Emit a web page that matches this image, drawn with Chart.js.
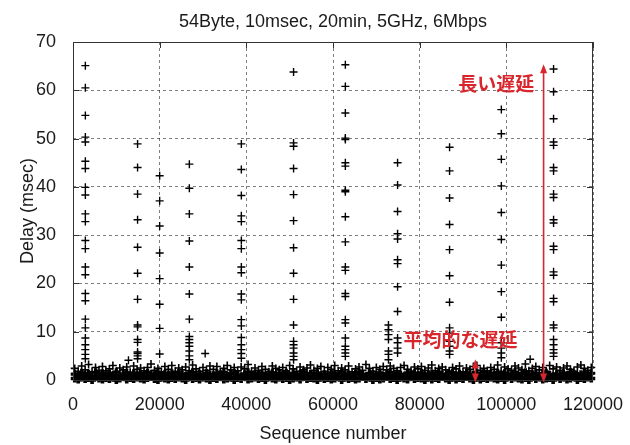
<!DOCTYPE html>
<html>
<head>
<meta charset="utf-8">
<script src="https://cdn.jsdelivr.net/npm/chart.js@4.4.1/dist/chart.umd.min.js"></script>
<style>
  body { margin: 0; background: #fff; }
</style>
</head>
<body>
<canvas id="myChart" width="630" height="445"></canvas>
<script>
var chartTitle = "54Byte, 10msec, 20min, 5GHz, 6Mbps";
var xTicks = [0, 20000, 40000, 60000, 80000, 100000, 120000];
var yTicks = [0, 10, 20, 30, 40, 50, 60, 70];

// background traffic: sequence numbers and three bands of delay
var seqBase = [
  400,1200,2000,2800,3600,4400,5200,6000,6800,7600,
  8400,9200,10000,10800,11600,12400,13200,14000,14800,15600,
  16400,17200,18000,18800,19600,20400,21200,22000,22800,23600,
  24400,25200,26000,26800,27600,28400,29200,30000,30800,31600,
  32400,33200,34000,34800,35600,36400,37200,38000,38800,39600,
  40400,41200,42000,42800,43600,44400,45200,46000,46800,47600,
  48400,49200,50000,50800,51600,52400,53200,54000,54800,55600,
  56400,57200,58000,58800,59600,60400,61200,62000,62800,63600,
  64400,65200,66000,66800,67600,68400,69200,70000,70800,71600,
  72400,73200,74000,74800,75600,76400,77200,78000,78800,79600,
  80400,81200,82000,82800,83600,84400,85200,86000,86800,87600,
  88400,89200,90000,90800,91600,92400,93200,94000,94800,95600,
  96400,97200,98000,98800,99600,100400,101200,102000,102800,103600,
  104400,105200,106000,106800,107600,108400,109200,110000,110800,111600,
  112400,113200,114000,114800,115600,116400,117200,118000,118800,119600
];
var baseLow = [
  0.3,0.1,0.5,0.2,0.4,0.0,0.6,0.3,0.1,0.4,
  0.2,0.5,0.0,0.3,0.6,0.1,0.4,0.2,0.5,0.3,
  0.1,0.4,0.6,0.2,0.0,0.5,0.3,0.1,0.4,0.2,
  0.5,0.3,0.0,0.6,0.2,0.4,0.1,0.5,0.3,0.0,
  0.4,0.2,0.6,0.1,0.3,0.5,0.0,0.4,0.2,0.6,
  0.1,0.3,0.5,0.2,0.4,0.0,0.6,0.3,0.1,0.5,
  0.2,0.4,0.0,0.3,0.5,0.1,0.6,0.2,0.4,0.3,
  0.0,0.5,0.2,0.4,0.1,0.3,0.6,0.0,0.5,0.2,
  0.4,0.1,0.3,0.6,0.2,0.5,0.0,0.4,0.1,0.3,
  0.6,0.2,0.4,0.0,0.5,0.3,0.1,0.6,0.2,0.4,
  0.3,0.0,0.5,0.1,0.4,0.2,0.6,0.3,0.0,0.5,
  0.1,0.4,0.2,0.6,0.3,0.0,0.5,0.1,0.4,0.2,
  0.5,0.3,0.1,0.4,0.0,0.6,0.2,0.5,0.3,0.1,
  0.4,0.0,0.6,0.2,0.5,0.1,0.3,0.4,0.0,0.6,
  0.2,0.5,0.1,0.3,0.6,0.0,0.4,0.2,0.5,0.3
];
var baseMid = [
  1.2,0.9,1.5,1.0,1.3,0.8,1.6,1.1,1.4,0.9,
  1.3,1.0,1.6,0.8,1.2,1.5,0.9,1.4,1.1,1.3,
  0.8,1.5,1.2,1.0,1.6,0.9,1.3,1.1,1.4,0.8,
  1.5,1.1,0.9,1.3,1.6,1.0,1.2,0.8,1.4,1.1,
  1.0,1.4,1.2,1.6,0.9,1.3,1.5,1.0,0.8,1.2,
  1.6,0.9,1.3,1.1,1.4,0.8,1.2,1.5,1.0,1.3,
  1.1,1.5,0.8,1.4,1.0,1.2,1.6,0.9,1.3,1.1,
  1.4,1.0,1.2,0.9,1.5,1.3,0.8,1.6,1.1,1.2,
  0.9,1.3,1.6,1.1,0.8,1.4,1.2,1.0,1.5,0.9,
  1.2,1.6,1.0,1.3,1.1,0.8,1.5,1.2,1.4,1.0,
  1.5,0.9,1.2,1.4,1.0,1.6,1.1,0.8,1.3,1.5,
  1.0,1.3,0.9,1.5,1.2,1.1,1.4,0.8,1.6,1.0,
  1.3,1.1,1.5,0.8,1.4,1.2,1.0,1.6,0.9,1.3,
  1.6,1.0,1.2,1.4,0.9,1.3,1.5,1.1,0.8,1.2,
  1.1,1.4,1.0,1.6,1.3,0.9,1.2,1.5,1.0,1.4
];
var baseTop = [
  2.4,1.8,2.9,2.1,3.2,1.7,2.6,2.0,2.8,1.9,
  2.3,3.0,1.8,2.5,2.1,2.7,1.6,2.9,2.2,2.5,
  1.9,2.6,3.3,2.0,2.4,1.7,2.8,2.2,3.0,1.8,
  2.5,2.1,2.7,1.9,3.1,2.3,1.8,2.6,2.0,2.9,
  2.2,2.8,1.7,2.4,3.0,2.1,2.6,1.9,2.7,2.3,
  3.2,1.8,2.5,2.0,2.8,2.2,1.7,2.9,2.4,2.1,
  2.6,1.9,3.0,2.3,1.8,2.7,2.1,2.5,3.1,2.0,
  2.4,2.8,1.8,2.6,2.2,3.0,1.9,2.5,2.1,2.9,
  1.7,2.3,2.7,2.0,3.2,2.4,1.8,2.6,2.2,2.8,
  2.1,2.9,2.4,1.9,2.6,3.0,2.2,1.8,2.7,2.3,
  2.8,2.0,2.5,3.1,1.9,2.4,2.7,2.1,1.8,2.6,
  2.3,2.9,1.7,2.5,2.2,2.8,3.0,2.0,2.4,1.9,
  2.6,2.2,3.1,1.8,2.7,2.3,2.0,2.9,2.5,2.1,
  3.3,1.9,2.4,2.8,2.1,2.6,1.8,3.0,2.3,2.7,
  2.0,2.5,2.9,2.2,1.8,2.7,3.1,2.4,2.0,2.6
];

// bursts of long delay (one column of points per burst)
var burstSeq = [2850, 14900, 20000, 26850, 38850, 50900, 62850, 72800, 74900, 86900, 98850, 110900];
var burstDelays = [
  [65.1,60.5,54.8,50.3,49.3,45.3,43.8,39.9,38.3,34.4,32.8,28.9,27.2,23.4,21.8,17.9,16.4,12.6,10.8,8.7,7.3,6.3,5.3,4.4],
  [48.9,44.0,38.5,33.2,27.5,22.1,16.7,11.4,11.0,8.4,7.8,5.8,5.5,5.0,4.4],
  [42.3,37.1,31.9,26.3,21.0,15.7,10.7,5.4],
  [44.7,39.7,34.4,28.8,23.4,17.8,12.6,9.0,8.4,7.7,7.0,6.0,5.0,4.2],
  [48.9,43.6,38.2,34.0,32.8,28.9,27.2,23.4,22.2,17.8,16.6,12.5,11.2,8.8,7.3,6.3,5.5,4.5],
  [63.8,49.1,48.4,43.8,38.4,33.0,27.4,22.1,16.7,11.4,8.0,7.3,6.6,5.6,4.9,4.2],
  [65.3,60.8,55.3,50.1,49.8,45.0,44.3,39.3,39.0,33.8,28.6,23.4,22.7,17.9,17.3,12.5,11.8,8.7,7.0,6.3,5.6,4.9],
  [11.4,10.4,9.4,8.4,6.0,5.3,4.2],
  [45.0,40.4,34.9,30.3,29.2,24.9,24.1,19.3,14.2,8.7,7.7,6.6,5.6],
  [48.2,43.3,37.7,32.2,27.0,21.6,16.1,10.8,9.7,8.0,7.0,6.0,5.3],
  [56.0,51.0,45.7,40.2,34.7,29.1,23.8,18.3,13.0,7.7,6.6,5.6,4.6],
  [64.4,59.7,54.1,49.3,48.6,44.0,43.3,38.5,37.8,33.2,32.5,27.7,27.0,22.4,21.7,16.9,16.2,11.4,10.8,8.4,7.3,6.3,5.6,4.9]
];
var straySeq = [12800, 30500, 105500];
var strayDelay = [4.1, 5.5, 4.3];

// red notes
var arrowSeq = [108600, 92850];
var arrowTop = [65.4, 4.3];
var arrowBottom = [-0.5, -0.5];
var noteText = ["長い遅延", "平均的な遅延"];
var noteSeq = [97700, 89400];
var noteDelay = [61.4, 8.3];

function pairs(xs, ys) {
  return xs.map(function (x, i) { return { x: x, y: ys[i] }; });
}

var burstPoints = [];
burstSeq.forEach(function (s, i) {
  burstDelays[i].forEach(function (d) { burstPoints.push({ x: s, y: d }); });
});
burstPoints = burstPoints.concat(pairs(straySeq, strayDelay));

var red = "#d8262c";

var notesPlugin = {
  id: "notes",
  afterDatasetsDraw: function (chart) {
    var ctx = chart.ctx, a = chart.chartArea;
    var xs = chart.scales.x, ys = chart.scales.y;
    ctx.save();
    // gnuplot style frame with inward ticks
    ctx.strokeStyle = "#333";
    ctx.lineWidth = 1;
    ctx.strokeRect(a.left + 0.5, a.top + 0.5, a.right - a.left - 1, a.bottom - a.top);
    ctx.beginPath();
    yTicks.forEach(function (v) {
      var py = Math.round(ys.getPixelForValue(v)) + 0.5;
      ctx.moveTo(a.left, py); ctx.lineTo(a.left + 6, py);
      ctx.moveTo(a.right - 6, py); ctx.lineTo(a.right, py);
    });
    xTicks.forEach(function (v) {
      var px = Math.round(xs.getPixelForValue(v)) + 0.5;
      ctx.moveTo(px, a.top); ctx.lineTo(px, a.top + 6);
    });
    ctx.stroke();

    // double headed arrows
    ctx.strokeStyle = red;
    ctx.fillStyle = red;
    ctx.lineWidth = 1.6;
    arrowSeq.forEach(function (s, i) {
      var px = xs.getPixelForValue(s);
      var t = ys.getPixelForValue(arrowTop[i]);
      var b = ys.getPixelForValue(arrowBottom[i]);
      ctx.beginPath();
      ctx.moveTo(px, t + 6); ctx.lineTo(px, b - 6);
      ctx.stroke();
      ctx.beginPath();
      ctx.moveTo(px, t); ctx.lineTo(px - 3.5, t + 9); ctx.lineTo(px + 3.5, t + 9); ctx.closePath();
      ctx.fill();
      ctx.beginPath();
      ctx.moveTo(px, b); ctx.lineTo(px - 3.5, b - 9); ctx.lineTo(px + 3.5, b - 9); ctx.closePath();
      ctx.fill();
    });

    ctx.font = "bold 19px 'Noto Sans CJK JP'";
    ctx.textAlign = "center";
    ctx.textBaseline = "middle";
    noteText.forEach(function (t, i) {
      ctx.fillText(t, xs.getPixelForValue(noteSeq[i]), ys.getPixelForValue(noteDelay[i]));
    });

    // title centred over the plot
    ctx.fillStyle = "#1a1a1a";
    ctx.font = "18px 'Liberation Sans'";
    ctx.fillText(chartTitle, (a.left + a.right) / 2, 22);
    ctx.restore();
  }
};

Chart.defaults.font.family = "'Liberation Sans', Arial, sans-serif";
Chart.defaults.color = "#1a1a1a";

function scatterSet(label, data, width) {
  return {
    label: label,
    data: data,
    showLine: false,
    pointStyle: "cross",
    pointRadius: 4,
    pointHoverRadius: 4,
    borderColor: "#000",
    backgroundColor: "#000",
    pointBorderWidth: width,
    clip: false
  };
}

new Chart("myChart", {
  type: "scatter",
  data: {
    datasets: [
      scatterSet("low", pairs(seqBase, baseLow), 3.6),
      scatterSet("mid", pairs(seqBase, baseMid), 3.2),
      scatterSet("top", pairs(seqBase, baseTop), 1.6),
      scatterSet("bursts", burstPoints, 1.4)
    ]
  },
  options: {
    responsive: false,
    animation: false,
    events: [],
    layout: { padding: { top: 42, right: 37, left: 0, bottom: 0 } },
    plugins: {
      legend: { display: false },
      tooltip: { enabled: false },
      title: { display: false }
    },
    scales: {
      x: {
        type: "linear",
        min: 0,
        max: 120000,
        afterBuildTicks: function (scale) {
          scale.ticks = xTicks.map(function (v) { return { value: v }; });
        },
        afterFit: function (scale) {
          scale.height = 65;
          scale.paddingLeft = 0;
          scale.paddingRight = 0;
        },
        ticks: {
          font: { size: 18 },
          padding: 14,
          maxRotation: 0,
          callback: function (v) { return String(v); }
        },
        grid: {
          color: "rgba(0,0,0,0.5)",
          drawTicks: false
        },
        border: { display: false, dash: [3, 3] },
        title: {
          display: true,
          text: "Sequence number",
          font: { size: 18 },
          padding: { top: 1, bottom: 0 }
        }
      },
      y: {
        min: 0,
        max: 70,
        afterBuildTicks: function (scale) {
          scale.ticks = yTicks.map(function (v) { return { value: v }; });
        },
        afterFit: function (scale) {
          scale.width = 73;
          scale.paddingTop = 0;
          scale.paddingBottom = 0;
        },
        ticks: {
          font: { size: 18 },
          padding: 17
        },
        grid: {
          color: "rgba(0,0,0,0.5)",
          drawTicks: false
        },
        border: { display: false, dash: [3, 3] },
        title: {
          display: true,
          text: "Delay (msec)",
          font: { size: 18 },
          padding: { top: 17, bottom: 0 }
        }
      }
    }
  },
  plugins: [notesPlugin]
});
</script>
</body>
</html>
